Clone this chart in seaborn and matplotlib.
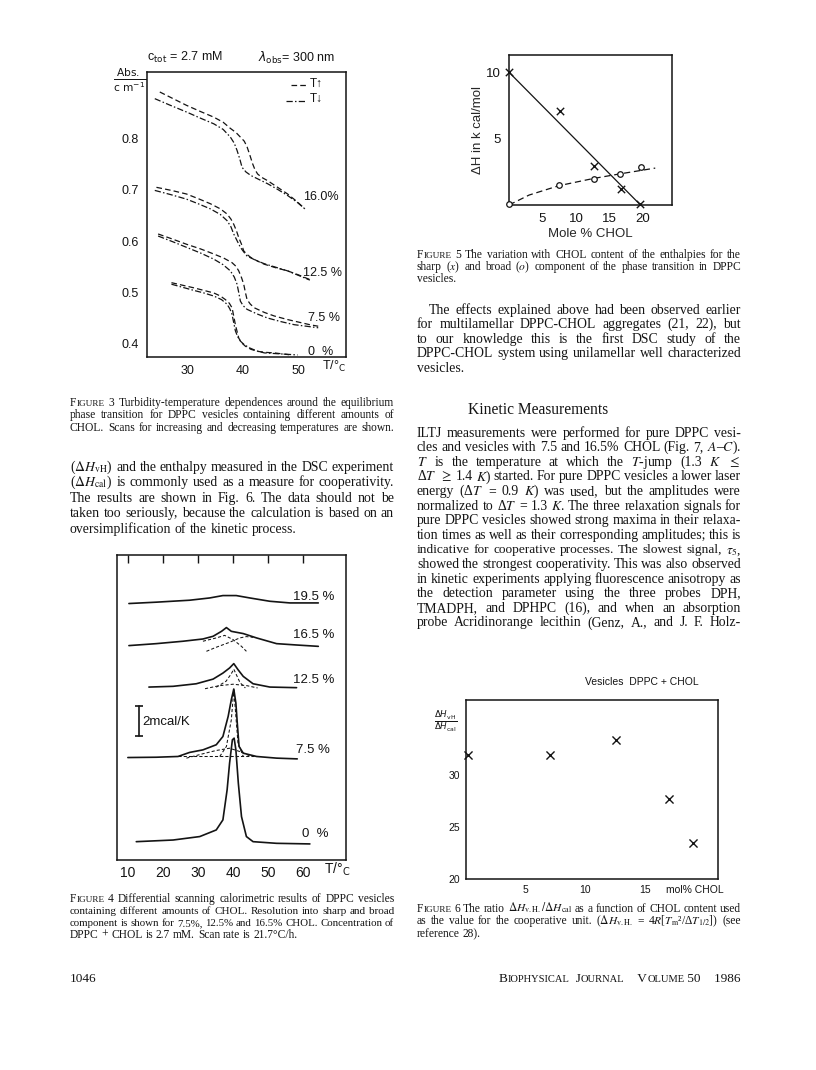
import matplotlib
matplotlib.use("Agg")
import matplotlib.pyplot as plt
import seaborn as sns
import pandas as pd

# ------------------------------------------------------------------
# Figure 3 : turbidity (Abs/cm) vs temperature (deg C), T-up (dashed) / T-down (dash-dot)
# ------------------------------------------------------------------
f3_T_up_160 = [25.1, 27.5, 29.9, 32.4, 34.8, 36.5, 37.8, 38.8, 39.6, 40.3, 40.8, 41.3, 41.8, 42.2, 42.7, 43.5, 44.5, 46.3, 48.1, 49.8, 51.2]
f3_A_up_160 = [0.891, 0.878, 0.865, 0.853, 0.842, 0.832, 0.820, 0.812, 0.803, 0.795, 0.784, 0.768, 0.751, 0.740, 0.731, 0.724, 0.718, 0.705, 0.692, 0.677, 0.663]
f3_T_dn_160 = [24.2, 27.0, 29.9, 32.4, 34.8, 36.5, 37.8, 38.5, 39.0, 39.5, 39.9, 40.6, 41.5, 43.0, 44.5, 46.3, 48.1, 49.8, 51.2]
f3_A_dn_160 = [0.878, 0.865, 0.852, 0.840, 0.829, 0.818, 0.803, 0.791, 0.777, 0.760, 0.744, 0.735, 0.728, 0.720, 0.712, 0.701, 0.689, 0.676, 0.663]

f3_T_up_125 = [24.5, 27.2, 29.9, 32.0, 34.2, 36.0, 37.2, 37.9, 38.4, 38.9, 39.3, 39.8, 40.2, 40.8, 41.5, 42.7, 43.9, 46.0, 48.1, 50.1, 52.1]
f3_A_up_125 = [0.705, 0.699, 0.692, 0.683, 0.673, 0.663, 0.653, 0.643, 0.633, 0.620, 0.607, 0.594, 0.581, 0.574, 0.568, 0.561, 0.555, 0.548, 0.542, 0.534, 0.525]
f3_T_dn_125 = [24.2, 27.0, 29.9, 32.0, 34.2, 36.0, 37.2, 37.9, 38.4, 39.0, 39.6, 40.2, 40.8, 42.3, 43.9, 46.0, 48.1, 50.1, 52.1]
f3_A_dn_125 = [0.699, 0.691, 0.682, 0.673, 0.663, 0.652, 0.640, 0.628, 0.614, 0.601, 0.588, 0.579, 0.571, 0.563, 0.556, 0.549, 0.542, 0.533, 0.524]

f3_T_up_75 = [24.8, 27.4, 29.9, 32.4, 34.8, 36.6, 38.1, 38.8, 39.3, 39.8, 40.2, 40.5, 40.8, 41.4, 42.1, 43.9, 45.7, 48.1, 50.5, 52.1, 53.6]
f3_A_up_75 = [0.614, 0.604, 0.594, 0.585, 0.575, 0.567, 0.558, 0.551, 0.542, 0.529, 0.516, 0.500, 0.486, 0.477, 0.470, 0.461, 0.454, 0.447, 0.441, 0.437, 0.434]
f3_T_dn_75 = [24.8, 27.4, 29.9, 32.4, 34.8, 36.5, 37.8, 38.5, 39.0, 39.3, 39.6, 40.1, 40.8, 42.6, 44.5, 46.9, 49.3, 51.5, 53.6]
f3_A_dn_75 = [0.610, 0.599, 0.588, 0.577, 0.565, 0.554, 0.542, 0.530, 0.516, 0.500, 0.483, 0.474, 0.467, 0.458, 0.450, 0.443, 0.437, 0.434, 0.431]

f3_T_up_0 = [27.2, 29.2, 31.2, 33.0, 34.8, 36.0, 36.9, 37.6, 38.1, 38.4, 38.7, 39.0, 39.3, 39.8, 40.5, 41.5, 42.7, 44.2, 45.7, 47.2, 48.7]
f3_A_up_0 = [0.519, 0.514, 0.509, 0.504, 0.499, 0.493, 0.486, 0.479, 0.470, 0.454, 0.437, 0.424, 0.411, 0.402, 0.395, 0.389, 0.385, 0.383, 0.382, 0.380, 0.378]
f3_T_dn_0 = [27.2, 29.2, 31.2, 33.0, 34.8, 36.2, 37.2, 37.7, 38.1, 38.4, 38.7, 39.1, 39.6, 40.3, 41.2, 42.5, 43.9, 46.9, 49.9]
f3_A_dn_0 = [0.516, 0.510, 0.504, 0.499, 0.493, 0.486, 0.477, 0.468, 0.457, 0.441, 0.425, 0.414, 0.405, 0.398, 0.392, 0.386, 0.382, 0.380, 0.378]

f3_labels = ["16.0%", "12.5 %", "7.5 %", "0  %"]
f3_xticks = [30, 40, 50]
f3_yticks = [0.4, 0.5, 0.6, 0.7, 0.8]
f3_yticklabels = ["0.4", "0.5", "0.6", "0.7", "0.8"]

# ------------------------------------------------------------------
# Figure 4 : DSC traces (arbitrary offset, mcal/K units)
# ------------------------------------------------------------------
f4_T_195 = [10.3, 18.1, 27.6, 33.3, 37.1, 40.9, 44.8, 50.5, 56.2, 64.3]
f4_c_195 = [17.07, 17.16, 17.29, 17.44, 17.60, 17.60, 17.44, 17.22, 17.11, 17.11]

f4_T_165 = [10.3, 18.1, 25.7, 31.4, 34.3, 36.7, 38.1, 39.5, 42.9, 46.7, 52.4, 58.1, 64.3]
f4_c_165 = [14.27, 14.40, 14.56, 14.71, 14.89, 15.22, 15.47, 15.22, 15.07, 14.78, 14.40, 14.31, 14.22]
f4_T_165_a = [31.4, 35.2, 37.6, 40.0, 42.4, 43.8]
f4_c_165_a = [14.56, 14.78, 14.95, 14.67, 14.22, 13.89]
f4_T_165_b = [32.4, 35.2, 39.0, 41.9, 43.8, 45.7]
f4_c_165_b = [13.89, 14.16, 14.49, 14.78, 14.87, 14.82]

f4_T_125 = [16.0, 22.9, 29.5, 34.3, 37.1, 39.0, 40.2, 41.4, 42.9, 45.7, 50.5, 58.1]
f4_c_125 = [11.51, 11.56, 11.73, 12.04, 12.44, 12.78, 13.07, 12.67, 12.22, 11.73, 11.51, 11.47]
f4_T_125_a = [35.2, 38.0, 39.5, 40.2, 41.0, 42.0, 43.5]
f4_c_125_a = [11.50, 11.90, 12.40, 12.70, 12.30, 11.80, 11.45]
f4_T_125_b = [32.0, 36.0, 40.0, 44.0, 47.0]
f4_c_125_b = [11.40, 11.60, 11.70, 11.60, 11.45]

f4_T_75 = [10.0, 18.1, 24.3, 27.6, 31.4, 35.2, 37.1, 38.6, 39.5, 40.2, 40.8, 41.2, 41.7, 42.9, 46.7, 52.4, 58.3]
f4_c_75 = [6.82, 6.84, 6.89, 7.16, 7.33, 7.67, 8.22, 9.56, 10.67, 11.38, 10.44, 9.11, 7.56, 7.11, 6.89, 6.78, 6.73]
f4_T_75_a = [26.7, 31.4, 35.2, 39.0, 41.9, 44.8]
f4_c_75_a = [6.78, 7.07, 7.29, 7.44, 7.22, 6.93]
f4_T_75_b = [36.2, 38.1, 39.5, 40.2, 40.8, 41.4, 42.9]
f4_c_75_b = [6.89, 7.56, 9.33, 11.33, 9.56, 7.78, 6.89]
f4_T_75_base = [24.3, 46.7]
f4_c_75_base = [6.89, 6.89]

f4_T_0 = [12.4, 22.9, 30.5, 35.2, 37.1, 38.3, 39.0, 39.8, 40.3, 40.8, 41.5, 42.4, 43.8, 45.7, 52.4, 61.9]
f4_c_0 = [1.22, 1.33, 1.56, 2.00, 2.67, 4.67, 6.44, 8.00, 8.11, 7.33, 5.11, 2.89, 1.56, 1.22, 1.11, 1.07]

f4_labels = ["19.5 %", "16.5 %", "12.5 %", "7.5 %", "0  %"]
f4_xticks = [10, 20, 30, 40, 50, 60]
f4_scale_T = [13.1, 13.1]
f4_scale_c = [8.22, 10.22]

# ------------------------------------------------------------------
# Figure 5 : enthalpies vs mole % CHOL
# ------------------------------------------------------------------
f5_sharp_x = [0.0, 7.6, 12.6, 16.7, 19.6]
f5_sharp_y = [10.0, 7.05, 2.95, 1.2, 0.1]
f5_broad_x = [0.0, 7.4, 12.6, 16.6, 19.7]
f5_broad_y = [0.05, 1.5, 1.98, 2.3, 2.88]
f5_fit_sharp_x = [0.0, 19.6]
f5_fit_sharp_y = [10.0, 0.0]
f5_fit_broad_x = [0.0, 3.0, 7.4, 12.6, 16.6, 21.8]
f5_fit_broad_y = [0.0, 0.75, 1.45, 2.0, 2.35, 2.78]
f5_xticks = [5, 10, 15, 20]
f5_yticks = [5, 10]

# ------------------------------------------------------------------
# Figure 6 : dH_vH / dH_cal vs mol % CHOL
# ------------------------------------------------------------------
f6_x = [0.2, 7.0, 12.6, 17.0, 19.0]
f6_y = [31.9, 31.9, 33.4, 27.7, 23.5]
f6_xticks = [5, 10, 15]
f6_yticks = [20, 25, 30]

# ------------------------------------------------------------------
W, H = 816, 1070
INK = "#141414"
sns.set_theme(style="white")
plt.rcParams["font.family"] = ["Liberation Sans", "DejaVu Sans"]
plt.rcParams["axes.edgecolor"] = INK
plt.rcParams["axes.linewidth"] = 1.1
plt.rcParams["xtick.color"] = INK
plt.rcParams["ytick.color"] = INK
plt.rcParams["text.color"] = INK

fig = plt.figure(figsize=(W / 100, H / 100), dpi=100)
fig.patch.set_facecolor("white")
R = fig.canvas.get_renderer()


def fx(x):
    return x / W


def fy(y):
    return 1 - y / H


def add_ax(x0, y0, x1, y1):
    ax = fig.add_axes([fx(x0), fy(y1), (x1 - x0) / W, (y1 - y0) / H])
    ax.set_facecolor("none")
    for s in ax.spines.values():
        s.set_visible(True)
        s.set_color(INK)
    return ax


def line(ax, x, y, ls="-", lw=1.0):
    d = pd.DataFrame({"x": x, "y": y})
    sns.lineplot(data=d, x="x", y="y", ax=ax, color=INK, lw=lw, linestyle=ls,
                 sort=False, estimator=None)


def ftext(x, y, s, size=8, **kw):
    kw.setdefault("va", "center")
    kw.setdefault("ha", "left")
    kw.setdefault("math_fontfamily", "dejavusans")
    return fig.text(fx(x), fy(y), s, fontsize=size, color=INK, **kw)


DASH = (0, (4.5, 2.5))
DASHDOT = (0, (5, 1.8, 1.2, 1.8))

# ---------------- Figure 3 ----------------
ax3 = add_ax(147, 72, 346, 357)
for T, A, ls in [(f3_T_up_160, f3_A_up_160, DASH), (f3_T_dn_160, f3_A_dn_160, DASHDOT),
                 (f3_T_up_125, f3_A_up_125, DASH), (f3_T_dn_125, f3_A_dn_125, DASHDOT),
                 (f3_T_up_75, f3_A_up_75, DASH), (f3_T_dn_75, f3_A_dn_75, DASHDOT),
                 (f3_T_up_0, f3_A_up_0, DASH), (f3_T_dn_0, f3_A_dn_0, DASHDOT)]:
    line(ax3, T, A, ls, 0.9)
ax3.set_xlim(22.8, 58.6)
ax3.set_ylim(0.374, 0.93)
ax3.set_xticks(f3_xticks)
ax3.set_yticks(f3_yticks)
ax3.set_yticklabels(f3_yticklabels)
ax3.tick_params(axis="both", direction="out", length=4, width=1, labelsize=9, pad=2)
ax3.set_xlabel("")
ax3.set_ylabel("")
ftext(147, 57, r"c$_{\rm tot}$ = 2.7 mM", 9)
ftext(258, 58, r"$\lambda_{\rm obs}$= 300 nm", 9)
ftext(130, 80, r"$\frac{\rm Abs.}{\rm c\ m^{-1}}$", 11, ha="center")
ftext(322, 366, r"T/°$_{\rm C}$", 9)
for (x, y), lab in zip([(303, 197), (303, 273), (308, 318), (308, 352)], f3_labels):
    ftext(x, y, lab, 9)
# legend
ax3.plot([0.725, 0.80], [0.955, 0.955], transform=ax3.transAxes, color=INK, lw=0.9, ls=DASH)
ax3.plot([0.70, 0.80], [0.90, 0.90], transform=ax3.transAxes, color=INK, lw=0.9, ls=DASHDOT)
ftext(310, 84, "T↑", 8.5)
ftext(310, 99, "T↓", 8.5)

# ---------------- Figure 4 ----------------
ax4 = add_ax(117, 555, 346, 860)
for T, c in [(f4_T_195, f4_c_195), (f4_T_165, f4_c_165), (f4_T_125, f4_c_125),
             (f4_T_75, f4_c_75), (f4_T_0, f4_c_0)]:
    line(ax4, T, c, "-", 1.2)
for T, c in [(f4_T_165_a, f4_c_165_a), (f4_T_165_b, f4_c_165_b),
             (f4_T_125_a, f4_c_125_a), (f4_T_125_b, f4_c_125_b),
             (f4_T_75_a, f4_c_75_a), (f4_T_75_b, f4_c_75_b), (f4_T_75_base, f4_c_75_base)]:
    line(ax4, T, c, (0, (3, 2)), 0.75)
line(ax4, f4_scale_T, f4_scale_c, "-", 1.2)
ax4.plot(f4_scale_T, f4_scale_c, marker="_", ms=6, mew=1.2, color=INK, ls="none")
ax4.set_xlim(6.9, 72.2)
ax4.set_ylim(0, 20.3)
ax4.set_xticks(f4_xticks)
ax4.set_yticks([])
ax4.tick_params(axis="x", direction="in", top=True, length=6, width=1, labelsize=10, pad=4)
ax4.set_xlabel("")
ax4.set_ylabel("")
ftext(142, 722, "2mcal/K", 9.5)
for (x, y), lab in zip([(293, 597), (293, 635), (293, 680), (296, 750), (302, 834)], f4_labels):
    ftext(x, y, lab, 9.5)
ftext(324, 869, r"T/°$_{\rm C}$", 10)

# ---------------- Figure 5 ----------------
ax5 = add_ax(509, 55, 672, 205)
line(ax5, f5_fit_sharp_x, f5_fit_sharp_y, "-", 0.9)
line(ax5, f5_fit_broad_x, f5_fit_broad_y, (0, (5, 3)), 0.9)
sns.scatterplot(x=f5_sharp_x, y=f5_sharp_y, ax=ax5, marker="x", color=INK, s=28, linewidth=1.0, clip_on=False)
sns.scatterplot(x=f5_broad_x, y=f5_broad_y, ax=ax5, marker="o", facecolor="white", edgecolor=INK,
                s=16, linewidth=0.9, clip_on=False, zorder=3)
ax5.set_xlim(0, 24.3)
ax5.set_ylim(0, 11.3)
ax5.set_xticks(f5_xticks)
ax5.set_yticks(f5_yticks)
ax5.tick_params(axis="both", direction="out", length=4, width=1, labelsize=9.5, pad=2)
ax5.set_xlabel("Mole % CHOL", fontsize=9.5, labelpad=2)
ax5.set_ylabel("ΔH in k cal/mol", fontsize=9.5, labelpad=1)

# ---------------- Figure 6 ----------------
ax6 = add_ax(466, 700, 718, 879)
sns.scatterplot(x=f6_x, y=f6_y, ax=ax6, marker="x", color=INK, s=34, linewidth=1.0, clip_on=False)
ax6.set_xlim(0, 21.1)
ax6.set_ylim(20.8, 37.2)
ax6.set_xticks(f6_xticks)
ax6.set_yticks(f6_yticks)
ax6.tick_params(axis="both", direction="in", length=4, width=1, labelsize=7.5, pad=4)
ax6.set_xlabel("")
ax6.set_ylabel("")
ftext(666, 890, "mol% CHOL", 7.5)
ftext(585, 682, "Vesicles  DPPC + CHOL", 7.5)
ftext(446, 722, r"$\frac{\Delta H_{\rm vH}}{\Delta H_{\rm cal}}$", 9, ha="center")

# ------------------------------------------------------------------
# page text
# ------------------------------------------------------------------
SERIF = ["Liberation Serif", "DejaVu Serif"]


def parts_of(word, size):
    if word.startswith("SC:"):
        w = word[3:]
        return [(w[0], size), (w[1:], size * 0.8)]
    return [(word, size)]


def build_words(s, size):
    items = []
    for w in s.split(" "):
        if not w:
            continue
        objs, tot = [], 0.0
        for txt, sz in parts_of(w, size):
            t = fig.text(0, 0, txt, fontsize=sz, family=SERIF, math_fontfamily="stix",
                         va="baseline", ha="left", color=INK)
            wd = t.get_window_extent(R).width
            objs.append((t, wd))
            tot += wd
        items.append((objs, tot))
    return items


def place_line(s, x0, x1, yc, size, justify=True):
    sz = size
    while True:
        items = build_words(s, sz)
        total = sum(t for _, t in items)
        n = len(items)
        mingap = sz * 100 / 72 * 0.2
        if total + (n - 1) * mingap <= (x1 - x0) or sz < size * 0.8:
            break
        for objs, _ in items:
            for t, _ in objs:
                t.remove()
        sz *= 0.97
    space = sz * 100 / 72 * 0.25
    gap = (x1 - x0 - total) / (n - 1) if (justify and n > 1) else space
    gap = max(gap, mingap)
    yb = yc + size * 100 / 72 * 0.26
    x = x0
    for objs, tot in items:
        xx = x
        for t, wd in objs:
            t.set_position((fx(xx), fy(yb)))
            xx += wd
        x += tot + gap


def paragraph(lines, x0, x1, y0, dy, size, last_left=True, indent=0):
    for i, s in enumerate(lines):
        last = last_left and i == len(lines) - 1
        place_line(s, x0 + (indent if i == 0 else 0), x1, y0 + i * dy, size, justify=not last)


LX0, LX1 = 70, 394
RX0, RX1 = 417, 741
CAP = 8.3
BODY = 9.9

paragraph(["SC:FIGURE 3  Turbidity-temperature dependences around the equilibrium",
           "phase transition for DPPC vesicles containing different amounts of",
           "CHOL. Scans for increasing and decreasing temperatures are shown."],
          LX0, LX1, 403, 12.3, CAP, last_left=False)

paragraph([r"($\Delta{}H_\mathrm{vH}$) and the enthalpy measured in the DSC experiment",
           r"($\Delta{}H_\mathrm{cal}$) is commonly used as a measure for cooperativity.",
           "The results are shown in Fig. 6. The data should not be",
           "taken too seriously, because the calculation is based on an",
           "oversimplification of the kinetic process."],
          LX0, LX1, 467, 15.6, BODY)

paragraph(["SC:FIGURE 4  Differential scanning calorimetric results of DPPC vesicles",
           "containing different amounts of CHOL. Resolution into sharp and broad",
           "component is shown for 7.5%, 12.5% and 16.5% CHOL. Concentration of",
           "DPPC + CHOL is 2.7 mM. Scan rate is 21.7°C/h."],
          LX0, LX1, 899, 12, CAP)

paragraph(["SC:FIGURE 5  The variation with CHOL content of the enthalpies for the",
           r"sharp ($x$) and broad ($o$) component of the phase transition in DPPC",
           "vesicles."],
          RX0, RX1, 255, 11.8, CAP)

paragraph(["The effects explained above had been observed earlier",
           "for multilamellar DPPC-CHOL aggregates (21, 22), but",
           "to our knowledge this is the first DSC study of the",
           "DPPC-CHOL system using unilamellar well characterized",
           "vesicles."],
          RX0, RX1, 310, 14.6, BODY, indent=12)

fig.text(fx(468), fy(414), "Kinetic Measurements", fontsize=11.2, family=SERIF, color=INK,
         va="baseline", ha="left")

paragraph(["ILTJ measurements were performed for pure DPPC vesi-",
           r"cles and vesicles with 7.5 and 16.5% CHOL (Fig. 7, $A$–$C$).",
           r"$T$ is the temperature at which the $T$-jump (1.3 $K$ $\leq$",
           r"Δ$T$ $\geq$ 1.4 $K$) started. For pure DPPC vesicles a lower laser",
           r"energy (Δ$T$ = 0.9 $K$) was used, but the amplitudes were",
           r"normalized to Δ$T$ = 1.3 $K$. The three relaxation signals for",
           "pure DPPC vesicles showed strong maxima in their relaxa-",
           "tion times as well as their corresponding amplitudes; this is",
           r"indicative for cooperative processes. The slowest signal, $\tau_5$,",
           "showed the strongest cooperativity. This was also observed",
           "in kinetic experiments applying fluorescence anisotropy as",
           "the detection parameter using the three probes DPH,",
           "TMADPH, and DPHPC (16), and when an absorption",
           "probe Acridinorange lecithin (Genz, A., and J. F. Holz-"],
          RX0, RX1, 433, 14.6, BODY, last_left=False)

paragraph(["SC:FIGURE 6  The ratio $\\Delta{}H_\\mathrm{v.H.}/\\Delta{}H_\\mathrm{cal}$ as a function of CHOL content used",
           r"as the value for the cooperative unit. ($\Delta{}H_\mathrm{v.H.}$ = 4$R$[$T_\mathrm{m}$²/Δ$T_{1/2}$]) (see",
           "reference 28)."],
          RX0, RX1, 909, 12.5, CAP)

FOOT_Y = 982
fig.text(fx(70), fy(FOOT_Y), "1046", fontsize=9.5, family=SERIF, color=INK, va="baseline")
# small-caps running foot, right aligned
foot = [("B", 9.5), ("IOPHYSICAL", 7.6), ("  J", 9.5), ("OURNAL", 7.6), ("    V", 9.5), ("OLUME", 7.6),
        (" 50    1986", 9.5)]
objs = []
tot = 0
for txt, sz in foot:
    t = fig.text(0, 0, txt, fontsize=sz, family=SERIF, color=INK, va="baseline")
    wd = t.get_window_extent(R).width
    objs.append((t, wd))
    tot += wd
x = RX1 - tot
for t, wd in objs:
    t.set_position((fx(x), fy(FOOT_Y)))
    x += wd

fig.savefig("out.png", dpi=100, facecolor="white")
